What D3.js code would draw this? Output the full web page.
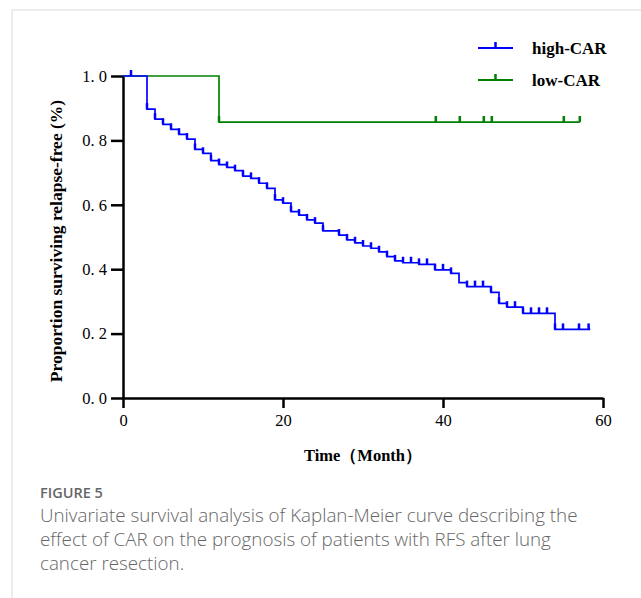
<!DOCTYPE html>
<html>
<head>
<meta charset="utf-8">
<script src="https://cdn.jsdelivr.net/npm/d3@7"></script>
<style>
  body { margin: 0; background: #fff; }
  svg { display: block; }
</style>
</head>
<body>
<div id="container"></div>
<script>
"use strict";

const width = 641;
const height = 598;

// step data: [month, survival after the drop]
const highTimes = [0, 3, 4, 5, 6, 7, 8, 9, 10, 11, 12, 13, 14, 15, 16, 17, 18, 19, 20, 21, 22, 23, 24, 25, 27, 28, 29, 30, 31, 32, 33, 34, 35, 37, 39, 41, 42, 43, 46, 47, 48, 50, 54];
const highSurv = [1.0, 0.897, 0.866, 0.85, 0.834, 0.819, 0.804, 0.772, 0.76, 0.737, 0.725, 0.716, 0.706, 0.689, 0.682, 0.667, 0.651, 0.615, 0.605, 0.579, 0.568, 0.553, 0.543, 0.519, 0.506, 0.491, 0.482, 0.472, 0.465, 0.454, 0.439, 0.426, 0.42, 0.415, 0.398, 0.387, 0.358, 0.346, 0.328, 0.294, 0.282, 0.263, 0.213];
const highEnd = 58.4;
const highCensor = [1, 3, 4, 5, 6, 7, 8, 9, 10, 11, 12, 13, 14, 15, 16, 17, 18, 19, 20, 21, 22, 23, 24, 25, 27, 28, 29, 30, 31, 32, 33, 34, 35, 36, 37, 38, 39, 40, 41, 43, 44, 45, 46, 47, 48, 49, 50, 51, 52, 53, 54, 55, 57, 58.2];

const lowTimes = [0, 12];
const lowSurv = [1.0, 0.857];
const lowEnd = 57.1;
const lowCensor = [12, 39.1, 42.1, 45.1, 46.1, 55.1, 57.1];

const groups = ["high-CAR", "low-CAR"];
const groupColors = ["#0000ff", "#008000"];

const xTicks = [0, 20, 40, 60];
const yTicks = [0, 0.2, 0.4, 0.6, 0.8, 1.0];

const captionTitle = "FIGURE 5";
const captionLines = [
  "Univariate survival analysis of Kaplan-Meier curve describing the",
  "effect of CAR on the prognosis of patients with RFS after lung",
  "cancer resection.",
];

const series = [
  { times: highTimes, surv: highSurv, end: highEnd, censor: highCensor },
  { times: lowTimes, surv: lowSurv, end: lowEnd, censor: lowCensor },
];

const svg = d3
  .select("#container")
  .append("svg")
  .attr("width", width)
  .attr("height", height);

// frame lines
svg.append("line")
  .attr("x1", 12).attr("y1", 10).attr("x2", width).attr("y2", 10)
  .attr("stroke", "#d9d9d9").attr("stroke-width", 1);
svg.append("line")
  .attr("x1", 12).attr("y1", 10).attr("x2", 12).attr("y2", height)
  .attr("stroke", "#d9d9d9").attr("stroke-width", 1);

const xScale = d3.scaleLinear().domain([0, 60]).range([123, 603]);
const yScale = d3.scaleLinear().domain([0, 1]).range([398, 76]);

const serif = "'Liberation Serif', 'Times New Roman', serif";

const xAxis = d3.axisBottom(xScale)
  .tickValues(xTicks)
  .tickSize(10)
  .tickSizeOuter(0)
  .tickPadding(6)
  .tickFormat(d3.format("d"));

const yAxis = d3.axisLeft(yScale)
  .tickValues(yTicks)
  .tickSize(12)
  .tickSizeOuter(0)
  .tickPadding(4)
  .tickFormat((d) => d.toFixed(1).replace(".", ". "));

const gx = svg.append("g")
  .attr("transform", `translate(0, ${yScale(0)})`)
  .call(xAxis);

const gy = svg.append("g")
  .attr("transform", `translate(${xScale(0)}, 0)`)
  .call(yAxis);

[gx, gy].forEach((g) => {
  g.selectAll("path, line").attr("stroke", "#000").attr("stroke-width", 2.5);
  g.selectAll("text")
    .attr("fill", "#000")
    .style("font-family", serif)
    .style("font-size", "16.5px");
});

svg.append("text")
  .attr("text-anchor", "middle")
  .attr("x", (xScale(0) + xScale(60)) / 2)
  .attr("y", 461)
  .style("font-family", serif)
  .style("font-size", "16.5px")
  .style("font-weight", "bold")
  .text("Time（Month）");

svg.append("text")
  .attr("text-anchor", "middle")
  .attr("transform", `translate(62, ${(yScale(0) + yScale(1)) / 2 + 4}) rotate(-90)`)
  .style("font-family", serif)
  .style("font-size", "17.5px")
  .style("font-weight", "bold")
  .text("Proportion surviving relapse-free (%)");

const line = d3.line()
  .x((d) => xScale(d[0]))
  .y((d) => yScale(d[1]))
  .curve(d3.curveStepAfter);

const survAt = (s, t) => {
  const i = d3.bisectRight(s.times, t) - 1;
  return s.surv[Math.max(0, i)];
};

// draw low first so high sits on top
[1, 0].forEach((k) => {
  const s = series[k];
  const pts = s.times.map((t, i) => [t, s.surv[i]]);
  pts.push([s.end, s.surv[s.surv.length - 1]]);

  svg.append("path")
    .datum(pts)
    .attr("fill", "none")
    .attr("stroke", groupColors[k])
    .attr("stroke-width", 1.7)
    .attr("d", line);

  svg.append("g")
    .selectAll("line")
    .data(s.censor)
    .enter()
    .append("line")
    .attr("x1", (t) => xScale(t))
    .attr("x2", (t) => xScale(t))
    .attr("y1", (t) => yScale(survAt(s, t)))
    .attr("y2", (t) => yScale(survAt(s, t)) - 6)
    .attr("stroke", groupColors[k])
    .attr("stroke-width", 2.5);
});

// legend
const legend = svg.append("g");
groups.forEach((name, i) => {
  const y = 48 + i * 32;
  legend.append("line")
    .attr("x1", 478).attr("x2", 513).attr("y1", y).attr("y2", y)
    .attr("stroke", groupColors[i]).attr("stroke-width", 2);
  legend.append("line")
    .attr("x1", 495.5).attr("x2", 495.5).attr("y1", y).attr("y2", y - 6)
    .attr("stroke", groupColors[i]).attr("stroke-width", 2.5);
  legend.append("text")
    .attr("x", 532)
    .attr("y", y + 5.5)
    .style("font-family", serif)
    .style("font-size", "17px")
    .style("font-weight", "bold")
    .text(name);
});

// caption
svg.append("text")
  .attr("x", 40)
  .attr("y", 498)
  .attr("fill", "#666")
  .style("font-family", "'Open Sans', sans-serif")
  .style("font-size", "14.5px")
  .style("font-weight", 600)
  .text(captionTitle);

svg.append("g")
  .selectAll("text")
  .data(captionLines)
  .enter()
  .append("text")
  .attr("x", 40)
  .attr("y", (d, i) => 522 + i * 24)
  .attr("fill", "#666")
  .style("font-family", "'Open Sans', sans-serif")
  .style("font-size", "18.8px")
  .style("font-weight", 300)
  .text((d) => d);
</script>
</body>
</html>
